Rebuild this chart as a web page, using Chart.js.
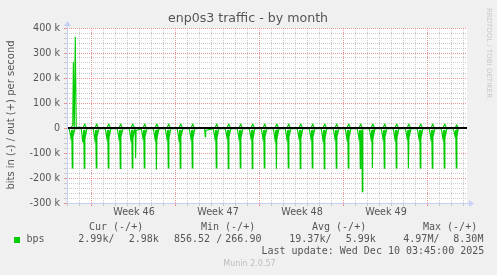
<!DOCTYPE html>
<html>
<head>
<meta charset="utf-8">
<script src="https://cdn.jsdelivr.net/npm/chart.js@4/dist/chart.umd.min.js"></script>
<style>
body { margin: 0; background: #f0f0f0; }
canvas { display: block; }
</style>
</head>
<body>
<canvas id="chart" width="497" height="275"></canvas>
<script>
// time axis is in days from the left edge of the graph
var spikeDays = [0.44, 1.44, 2.44, 3.44, 4.44, 5.44, 6.44, 7.45, 8.44, 9.44, 10.44,
    11.44, 12.44, 13.44, 14.44, 15.44, 16.44, 17.45, 18.44, 19.44, 20.44, 21.44,
    22.44, 23.44, 24.44, 25.45, 26.44, 27.44, 28.45, 29.44, 30.44, 31.44, 32.44];
// bits in, thousands (drawn negative)
var inPeaks = [-160, -161, -160, -160, -162, -160, -160, -166, -160, -161, -160,
    null, -160, -162, -160, -162, -160, -163, -160, -162, -160, -163,
    -161, -160, -162, -160, -161, -160, -162, -160, -161, -160, -160];
var inPreDips = [-38, -58, -45, -40, -40, -45, -38, -42, -40, -45, -40,
    null, -40, -35, -40, -38, -40, -45, -42, -38, -40, -45,
    -40, -42, -40, -42, -40, -42, -38, -40, -42, -40, -30];
var inPostDips = [-25, -30, -25, -28, -25, -28, -25, -28, -28, -25, -28,
    null, -28, -25, -28, -30, -25, -28, -25, -28, -25, -28,
    -25, -28, -25, -28, -25, -28, -25, -28, -25, -28, -20];
var extraInDays = [5.72, 11.52, 24.61];
var extraInValues = [-120, -35, -255];
var gapDays = [11.05, 11.45];
// bits out, thousands
var outPeaks = [12, 15, 15, 15, 15, 15, 15, 15, 15, 15, 15,
    12, 15, 15, 15, 15, 15, 15, 15, 15, 15, 15,
    15, 15, 15, 15, 15, 15, 15, 15, 15, 15, 12];
var burstOutDays = [0.53, 0.61, 0.69, 0.77];
var burstOutValues = [265, 6, 365, 4];
var endDay = 32.6;

var weekLabels = ['Week 46', 'Week 47', 'Week 48', 'Week 49'];
var weekStarts = [2.083, 9.083, 16.083, 23.083, 30.083];
var yLabelValues = [-300, -200, -100, 0, 100, 200, 300, 400];

function buildIn() {
    var pts = [{ x: 0, y: -2 }];
    for (var i = 0; i < spikeDays.length; i++) {
        var t = spikeDays[i];
        if (inPeaks[i] === null) continue;
        pts.push({ x: t - 0.25, y: -3 });
        pts.push({ x: t - 0.12, y: inPreDips[i] });
        pts.push({ x: t - 0.05, y: -8 });
        pts.push({ x: t, y: inPeaks[i] });
        pts.push({ x: t + 0.05, y: -6 });
        pts.push({ x: t + 0.11, y: inPostDips[i] });
        pts.push({ x: t + 0.22, y: -3 });
    }
    for (var j = 0; j < extraInDays.length; j++) {
        pts.push({ x: extraInDays[j] - 0.04, y: -10 });
        pts.push({ x: extraInDays[j], y: extraInValues[j] });
        pts.push({ x: extraInDays[j] + 0.04, y: -10 });
    }
    pts.push({ x: gapDays[0], y: -2 });
    pts.push({ x: (gapDays[0] + gapDays[1]) / 2, y: null });
    pts.push({ x: gapDays[1], y: -2 });
    pts.push({ x: endDay, y: -3 });
    pts.sort(function (a, b) { return a.x - b.x; });
    return pts.map(function (p) { return { x: p.x, y: p.y === null ? null : p.y * 1000 }; });
}

function buildOut() {
    var pts = [{ x: 0, y: 2 }];
    for (var i = 0; i < spikeDays.length; i++) {
        var t = spikeDays[i];
        if (i === 11) continue;
        pts.push({ x: t - 0.1, y: 2 });
        pts.push({ x: t + 0.04, y: outPeaks[i] });
        pts.push({ x: t + 0.16, y: 2 });
    }
    for (var j = 0; j < burstOutDays.length; j++) {
        pts.push({ x: burstOutDays[j], y: burstOutValues[j] });
    }
    pts.push({ x: gapDays[0], y: 2 });
    pts.push({ x: (gapDays[0] + gapDays[1]) / 2, y: null });
    pts.push({ x: gapDays[1], y: 2 });
    pts.push({ x: endDay, y: 3 });
    pts.sort(function (a, b) { return a.x - b.x; });
    return pts.map(function (p) { return { x: p.x, y: p.y === null ? null : p.y * 1000 }; });
}

function isWeekStart(v) {
    for (var i = 0; i < weekStarts.length; i++) {
        if (Math.abs(v - weekStarts[i]) < 0.001) return true;
    }
    return false;
}

var munin = {
    id: 'munin',
    beforeDraw: function (chart) {
        var ctx = chart.ctx, a = chart.chartArea;
        ctx.save();
        ctx.fillStyle = '#f0f0f0';
        ctx.fillRect(0, 0, chart.width, chart.height);
        ctx.fillStyle = '#ffffff';
        ctx.fillRect(a.left, a.top, a.right - a.left, a.bottom - a.top);
        ctx.restore();
    },
    afterDraw: function (chart) {
        var ctx = chart.ctx, a = chart.chartArea;
        ctx.save();
        // axes with arrows
        ctx.strokeStyle = '#c8cff5';
        ctx.fillStyle = '#c8cff5';
        ctx.lineWidth = 1;
        ctx.beginPath();
        ctx.moveTo(a.left + 0.5, a.bottom + 0.5);
        ctx.lineTo(a.left + 0.5, a.top - 5);
        ctx.moveTo(a.left, a.bottom + 0.5);
        ctx.lineTo(a.right + 5, a.bottom + 0.5);
        ctx.stroke();
        ctx.beginPath();
        ctx.moveTo(a.left + 0.5, a.top - 7);
        ctx.lineTo(a.left - 3, a.top - 2);
        ctx.lineTo(a.left + 4, a.top - 2);
        ctx.fill();
        ctx.beginPath();
        ctx.moveTo(a.right + 7, a.bottom + 0.5);
        ctx.lineTo(a.right + 2, a.bottom - 3);
        ctx.lineTo(a.right + 2, a.bottom + 4);
        ctx.fill();

        // title
        ctx.fillStyle = '#555';
        ctx.textBaseline = 'middle';
        ctx.textAlign = 'center';
        ctx.font = '12.6px "DejaVu Sans"';
        ctx.fillText('enp0s3 traffic - by month', 248, 19);

        // vertical axis title
        ctx.save();
        ctx.translate(11, 115);
        ctx.rotate(-Math.PI / 2);
        ctx.font = '10px "DejaVu Sans"';
        ctx.fillText('bits in (-) / out (+) per second', 0, 0);
        ctx.restore();

        // rrdtool watermark
        ctx.save();
        ctx.translate(488.5, 53);
        ctx.rotate(Math.PI / 2);
        ctx.fillStyle = '#c8c8c8';
        ctx.font = '7px "DejaVu Sans"';
        ctx.fillText('RRDTOOL / TOBI OETIKER', 0, 0);
        ctx.restore();

        // legend
        ctx.textAlign = 'left';
        ctx.fillStyle = '#555';
        ctx.font = '10px "DejaVu Sans Mono"';
        ctx.fillText('Cur (-/+)', 89, 227);
        ctx.fillText('Min (-/+)', 201, 227);
        ctx.fillText('Avg (-/+)', 312, 227);
        ctx.fillText('Max (-/+)', 423, 227);
        ctx.fillStyle = '#00cc00';
        ctx.fillRect(14, 237, 6, 6);
        ctx.fillStyle = '#555';
        ctx.fillText('bps', 26.5, 239.5);
        ctx.fillText('2.99k/', 78.3, 239.5);
        ctx.fillText('2.98k', 128.7, 239.5);
        ctx.fillText('856.52 /', 174, 239.5);
        ctx.fillText('266.90', 225.3, 239.5);
        ctx.fillText('19.37k/', 289.3, 239.5);
        ctx.fillText('5.99k', 345.7, 239.5);
        ctx.fillText('4.97M/', 403.3, 239.5);
        ctx.fillText('8.30M', 453.3, 239.5);
        ctx.fillText('Last update: Wed Dec 10 03:45:00 2025', 261.5, 251.5);
        ctx.fillStyle = '#bdbdbd';
        ctx.font = '8px "DejaVu Sans"';
        ctx.fillText('Munin 2.0.57', 223.3, 263.5);
        ctx.restore();
    }
};

var ctx = document.getElementById('chart').getContext('2d');
var chart = new Chart(ctx, {
    type: 'line',
    data: {
        datasets: [{
            label: 'zero',
            data: [{ x: 0, y: 0 }, { x: 33.4, y: 0 }],
            borderColor: '#000000',
            borderWidth: 2,
            pointRadius: 0
        }, {
            label: 'bps out',
            data: buildOut(),
            borderColor: '#00cc00',
            borderWidth: 1.1,
            pointRadius: 0,
            spanGaps: false
        }, {
            label: 'bps in',
            data: buildIn(),
            borderColor: '#00cc00',
            borderWidth: 1.1,
            pointRadius: 0,
            spanGaps: false
        }]
    },
    options: {
        responsive: false,
        devicePixelRatio: 1,
        animation: false,
        events: [],
        layout: { padding: { top: 28, right: 30, left: 0, bottom: 0 } },
        plugins: { legend: { display: false }, tooltip: { enabled: false } },
        scales: {
            x: {
                type: 'linear',
                min: 0,
                max: 33.333,
                afterFit: function (s) { s.height = 72; },
                afterBuildTicks: function (s) {
                    var t = [];
                    for (var d = 0.083; d < 33.3; d += 1) t.push({ value: d });
                    for (var w = 0; w < weekLabels.length; w++) {
                        t.push({ value: (weekStarts[w] + weekStarts[w + 1]) / 2, label: weekLabels[w] });
                    }
                    t.sort(function (p, q) { return p.value - q.value; });
                    s.ticks = t;
                },
                ticks: {
                    autoSkip: false,
                    maxRotation: 0,
                    padding: 1,
                    color: '#555',
                    font: { family: 'DejaVu Sans', size: 9.6 },
                    callback: function (v, i, ticks) { return ticks[i].label || ''; }
                },
                grid: {
                    tickLength: 3,
                    color: function (c) {
                        if (c.tick && c.tick.label) return 'rgba(0,0,0,0)';
                        if (c.tick && isWeekStart(c.tick.value)) return 'rgba(230,120,120,0.8)';
                        return 'rgba(190,190,190,0.8)';
                    }
                },
                border: { display: false, dash: [1, 1] }
            },
            y: {
                type: 'linear',
                min: -300000,
                max: 400000,
                afterFit: function (s) { s.width = 67; },
                afterBuildTicks: function (s) {
                    var t = [];
                    for (var v = -300; v <= 400; v += 20) t.push({ value: v * 1000 });
                    s.ticks = t;
                },
                ticks: {
                    autoSkip: false,
                    padding: 4,
                    color: '#555',
                    font: { family: 'DejaVu Sans', size: 9.6 },
                    callback: function (v) {
                        var k = Math.round(v / 1000);
                        if (yLabelValues.indexOf(k) < 0) return '';
                        return k === 0 ? '0' : k + ' k';
                    }
                },
                grid: {
                    tickLength: 3,
                    color: function (c) {
                        var k = c.tick ? Math.round(c.tick.value / 1000) : 1;
                        if (yLabelValues.indexOf(k) >= 0) return 'rgba(230,120,120,0.8)';
                        return 'rgba(190,190,190,0.8)';
                    }
                },
                border: { display: false, dash: [1, 1] }
            }
        }
    },
    plugins: [munin]
});
</script>
</body>
</html>
